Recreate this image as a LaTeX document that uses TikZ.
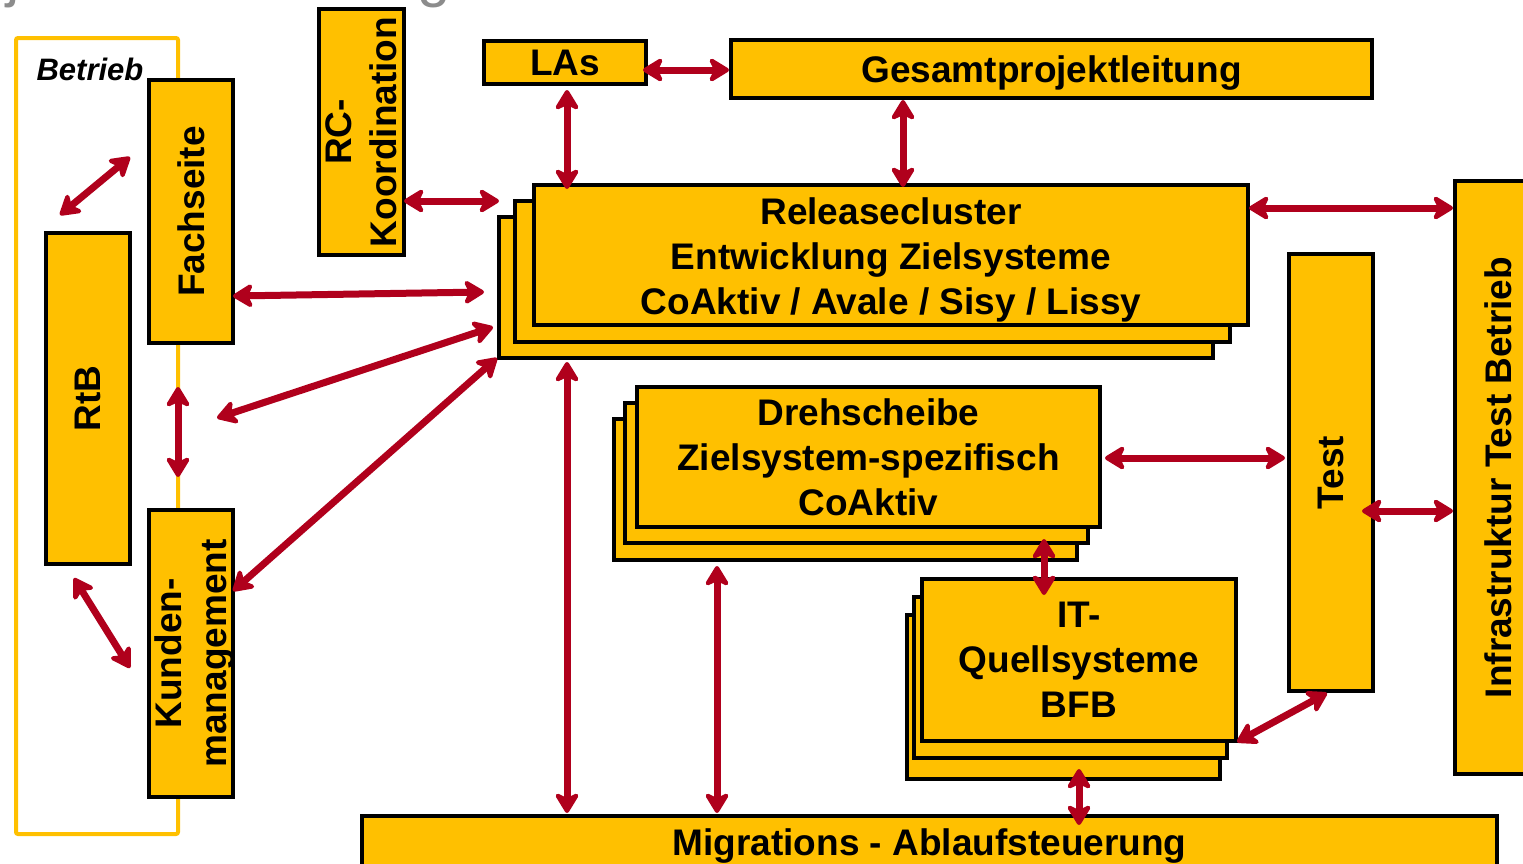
\documentclass[tikz,border=0pt]{standalone}
\usepackage{fontspec}
\setmainfont{Liberation Sans}
\usetikzlibrary{arrows.meta,fit,calc}
\definecolor{boxfill}{HTML}{FFC000}
\definecolor{linkred}{HTML}{B0001C}
\definecolor{titlegrey}{HTML}{8C8C8C}

\begin{document}
\begin{tikzpicture}[x=1pt,y=-1pt,
  box/.style={draw=black, line width=4.5pt, fill=boxfill, inner sep=0pt, outer sep=0pt},
  htext/.style={font=\fontsize{37}{45}\selectfont\bfseries, align=center, inner sep=0pt},
  vtext/.style={rotate=90, font=\fontsize{37}{45}\selectfont\bfseries, align=center, inner sep=0pt},
  tipshape/.tip={Stealth[length=24pt,width=29pt,inset=7pt,round]},
  link/.style={draw=linkred, line width=7pt, tipshape-tipshape},
]
\useasboundingbox (0,0) rectangle (1523,863);
\clip (0,0) rectangle (1523,863);

% title line above the chart (only its descenders reach the page)
\node[text=titlegrey, font=\fontsize{60}{60}\selectfont, anchor=base, inner sep=0pt] (titleJ) at (13,-5) {j};
\node[text=titlegrey, font=\fontsize{60}{60}\selectfont, anchor=base, inner sep=0pt] (titleG) at (434,-5) {g};

% operations frame
\node[draw=boxfill, line width=4pt, rounded corners=2pt, inner sep=0pt, fit={(16,38) (178,834)}] (betrieb) {};
\node[font=\fontsize{31}{31}\selectfont\bfseries\itshape, anchor=base, inner sep=0pt] (betriebtxt) at (90,80) {Betrieb};

% left column
\node[box, fit={(149,80) (233,343)}] (fach) {};
\node[vtext] (fachtxt) at (fach.center) {Fachseite};
\node[box, fit={(46,233) (130,564)}] (rtb) {};
\node[vtext] (rtbtxt) at (rtb.center) {RtB};
\node[box, fit={(149,510) (233,797)}] (kunden) {};
\node[vtext] (kundentxt) at ([xshift=4pt]kunden.center) {Kunden-\\management};
\node[box, fit={(319,9) (404,255)}] (rc) {};
\node[vtext] (rctxt) at (rc.center) {RC-\\Koordination};

% top row
\node[box, fit={(484,41) (646,84)}] (las) {};
\node[htext] (lastxt) at (las.center) {LAs};
\node[box, fit={(731,40) (1372,98)}] (gpl) {};
\node[htext] (gpltxt) at ([yshift=-4.5pt]gpl.center) {Gesamtprojektleitung};

% release cluster stack
\node[box, fit={(499,217) (1213,358)}] (relA) {};
\node[box, fit={(515,201) (1230,342)}] (relB) {};
\node[box, fit={(534,185) (1248,325)}] (rel) {};
\node[htext] (reltxt) at ([yshift=-4.5pt]rel.center) {Releasecluster\\Entwicklung Zielsysteme\\CoAktiv / Avale / Sisy / Lissy};

% hub stack
\node[box, fit={(614,419) (1077,560)}] (drehA) {};
\node[box, fit={(625,403) (1088,543)}] (drehB) {};
\node[box, fit={(637,387) (1100,527)}] (dreh) {};
\node[htext] (drehtxt) at (dreh.center) {Drehscheibe\\Zielsystem-spezifisch\\CoAktiv};

% source systems stack
\node[box, fit={(907,615) (1220,779)}] (itA) {};
\node[box, fit={(914,597) (1227,758)}] (itB) {};
\node[box, fit={(922,579) (1236,741)}] (it) {};
\node[htext] (ittxt) at (it.center) {IT-\\Quellsysteme\\BFB};

% right column
\node[box, fit={(1289,254) (1373,691)}] (test) {};
\node[vtext] (testtxt) at (test.center) {Test};
\node[box, fit={(1455,181) (1545,774)}] (infra) {};
\node[vtext] (infratxt) at (1498.5,477.5) {Infrastruktur Test Betrieb};

% bottom bar
\node[box, fit={(362,816) (1497,870)}] (migr) {};
\node[htext] (migrtxt) at (929.5,846) {Migrations - Ablaufsteuerung};

% free arrow ends
\coordinate (rtbUp)    at (60,215);
\coordinate (fachLow)  at (130,157);
\coordinate (relLeft)  at (484,292);
\coordinate (betrMid)  at (217,418);
\coordinate (relDiag)  at (493,327);
\coordinate (rtbDown)  at (74,578);
\coordinate (kundUp)   at (130,668);
\coordinate (fkTop)    at (178,387);
\coordinate (fkBot)    at (178,477);

% connectors
\draw[link] (rtbUp) -- (fachLow);
\draw[link] (fach.east |- 0,296) -- (relLeft);
\draw[link] (rc.east |- 0,201) -- (relA.west |- 0,201);
\draw[link] ([xshift=2pt,yshift=-6pt]las.south) -- ([xshift=2pt,yshift=-4pt]las.south |- rel.north);
\draw[link] ([xshift=-3pt]las.east |- 0,70) -- ([xshift=-2pt]gpl.west |- 0,70);
\draw[link] ([yshift=-2pt]gpl.south -| 903,0) -- ([yshift=-2pt]rel.north -| 903,0);
\draw[link] ([xshift=1pt]rel.east |- 0,208) -- ([xshift=-2pt]infra.west |- 0,208);
\draw[link] (fkTop) -- (fkBot);
\draw[link] (betrMid) -- (relDiag);
\draw[link] (kunden.east |- 0,591) -- ([xshift=-2pt]relA.south west);
\draw[link] (rtbDown) -- (kundUp);
\draw[link] ([yshift=-4pt]relA.south -| 567,0) -- ([yshift=3pt]migr.north -| 567,0);
\draw[link] ([yshift=-6pt]drehA.south -| 717,0) -- ([yshift=3pt]migr.north -| 717,0);
\path (dreh.south -| 1044,0) ++(0,12) coordinate (dhTop) (it.north -| 1044,0) ++(0,16) coordinate (itTop);
\draw[link] (dhTop) -- (itTop);
\draw[link] ([yshift=10pt]itA.south -| 1079,0) -- ([yshift=-9pt]migr.north -| 1079,0);
\draw[link] ([xshift=5pt]dreh.east |- 0,458) -- ([xshift=-4pt]test.west |- 0,458);
\draw[link] ([xshift=-11pt]test.east |- 0,511) -- ([xshift=-2pt]infra.west |- 0,511);
\draw[link] ([xshift=1pt,yshift=-1pt]it.south east) -- ([xshift=-4pt,yshift=-2pt]test.south);
\end{tikzpicture}
\end{document}
